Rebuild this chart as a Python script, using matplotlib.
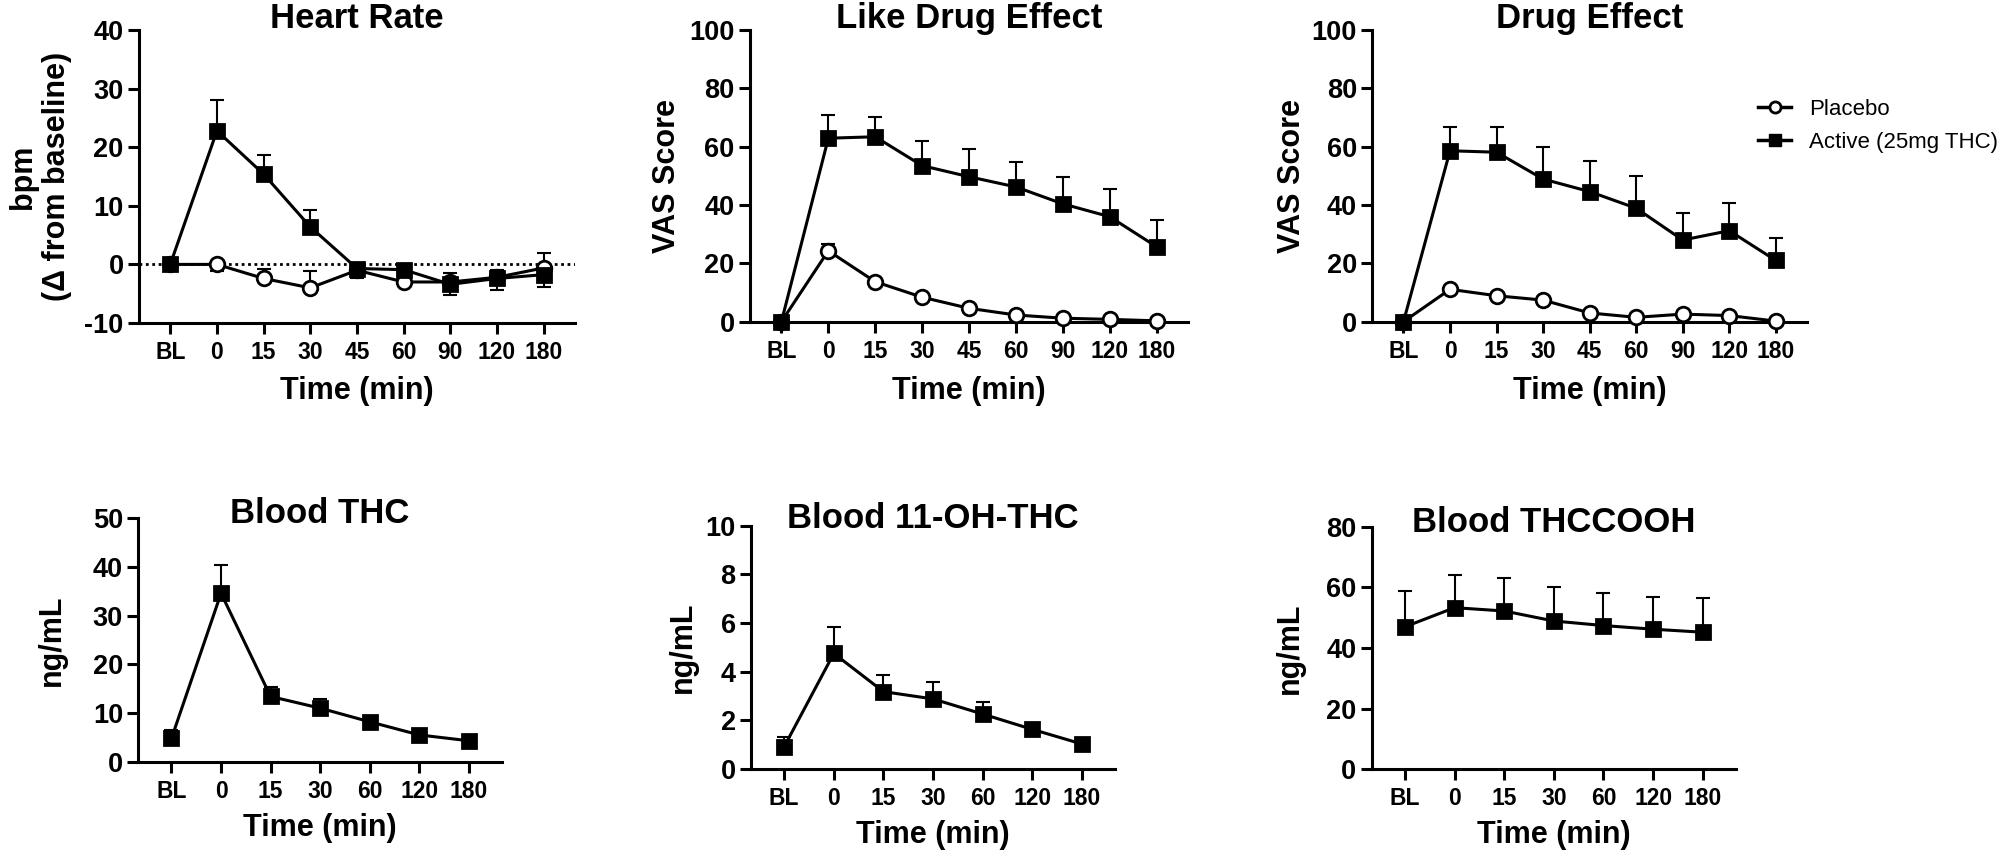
import matplotlib
matplotlib.use('Agg')
import matplotlib.pyplot as plt
from matplotlib.lines import Line2D

plt.rcParams['font.family'] = ['Liberation Sans', 'DejaVu Sans']
plt.rcParams['font.weight'] = 'bold'
plt.rcParams['axes.unicode_minus'] = False

# Time points for the subjective / heart-rate measures and for blood samples.
TIMES_VAS = ['BL', '0', '15', '30', '45', '60', '90', '120', '180']
TIMES_BLOOD = ['BL', '0', '15', '30', '60', '120', '180']

# Heart rate (bpm, change from baseline). Errors are one-sided as drawn.
hr_placebo = [0, 0.0, -2.4, -4.0, -1.0, -3.0, -3.0, -2.2, -0.6]
hr_placebo_lo = [0, 1.1, 0, 0, 1.4, 0, 0, 0, 0]
hr_placebo_hi = [0, 0, 1.6, 2.8, 0, 0.6, 0, 0, 2.5]
hr_active = [0, 22.8, 15.4, 6.4, -0.7, -0.9, -3.4, -2.4, -1.75]
hr_active_lo = [0, 0, 0, 0, 0, 0, 1.8, 2.0, 2.1]
hr_active_hi = [0, 5.2, 3.2, 2.8, 0, 0, 2.0, 1.5, 0]

# Like drug effect (VAS score)
like_placebo = [0, 24.3, 13.7, 8.4, 4.6, 2.3, 1.2, 0.8, 0.3]
like_placebo_hi = [0, 2.2, 0, 0, 0, 0, 0, 0, 0]
like_active = [0, 62.9, 63.4, 53.5, 49.7, 46.2, 40.4, 36.0, 25.7]
like_active_hi = [0, 8.0, 6.7, 8.6, 9.5, 8.6, 9.1, 9.4, 9.2]

# Drug effect (VAS score)
de_placebo = [0, 11.1, 8.9, 7.4, 3.0, 1.5, 2.6, 2.1, 0.2]
de_placebo_hi = [0, 0, 0, 0, 0, 0, 0, 0, 0]
de_active = [0, 58.6, 58.1, 48.9, 44.6, 38.9, 28.0, 31.2, 21.0]
de_active_hi = [0, 8.0, 8.5, 11.1, 10.6, 11.0, 9.2, 9.4, 7.7]

# Blood concentrations (ng/mL), active group only
thc = [4.8, 34.6, 13.4, 11.0, 8.2, 5.5, 4.3]
thc_hi = [1.7, 5.8, 1.9, 1.9, 0.8, 0.5, 0.4]
oh_thc = [0.92, 4.75, 3.18, 2.88, 2.26, 1.63, 1.03]
oh_thc_hi = [0.38, 1.07, 0.68, 0.68, 0.51, 0.15, 0.1]
thccooh = [47.0, 53.3, 52.2, 48.9, 47.4, 46.2, 45.2]
thccooh_hi = [11.9, 10.8, 11.0, 11.3, 10.6, 10.5, 11.4]

W, H = 2012, 861
fig = plt.figure(figsize=(W / 100, H / 100), dpi=100)


def box(l, r, t, b):
    return [l / W, 1 - b / H, (r - l) / W, (b - t) / H]


def style_axes(ax, labels, ylim, yticks, title, ylabel, ylab_px, title_off_px, xlab_top_px):
    n = len(labels)
    ax.set_xlim(-0.67, n - 1 + 0.67)
    ax.set_ylim(*ylim)
    ax.set_xticks(range(n))
    ax.set_xticklabels(labels)
    ax.set_yticks(yticks)
    for s in ['top', 'right']:
        ax.spines[s].set_visible(False)
    for s in ['left', 'bottom']:
        ax.spines[s].set_linewidth(2.2)
    ax.tick_params(direction='out', length=8, width=2.2)
    ax.tick_params(axis='x', pad=5, labelsize=16.5)
    ax.tick_params(axis='y', pad=3, labelsize=19.5)
    pos = ax.get_position()
    h_px = pos.height * H
    w_px = pos.width * W
    ax.set_title(title, fontsize=25, fontweight='bold', y=1 - title_off_px / h_px, pad=0)
    ax.set_ylabel(ylabel, fontsize=22, fontweight='bold', va='center')
    ax.yaxis.set_label_coords(ylab_px / w_px, 0.5)
    ax.set_xlabel('Time (min)', fontsize=22, fontweight='bold')
    ax.xaxis.set_label_coords(0.5, -xlab_top_px / h_px)


def draw(ax, y, lo, hi, marker, filled):
    x = range(len(y))
    ax.errorbar(x, y, yerr=[lo, hi], fmt='none', ecolor='black', elinewidth=1.5,
                capsize=5, capthick=1.5, zorder=2, clip_on=False)
    ax.plot(x, y, color='black', lw=2.2, marker=marker, markersize=10.5,
            markerfacecolor='black' if filled else 'white', markeredgecolor='black',
            markeredgewidth=2, zorder=3, clip_on=False)


zeros9 = [0] * 9
zeros7 = [0] * 7

# Heart rate
ax1 = fig.add_axes(box(139, 575, 30, 323))
ax1.axhline(0, color='black', lw=2, ls=(0, (1, 1.3)), zorder=1)
draw(ax1, hr_placebo, hr_placebo_lo, hr_placebo_hi, 'o', False)
draw(ax1, hr_active, hr_active_lo, hr_active_hi, 's', True)
style_axes(ax1, TIMES_VAS, (-10, 40), range(-10, 41, 10), 'Heart Rate',
           'bpm\n(\u0394 from baseline)', -99, -2, 53)

# Like drug effect
ax2 = fig.add_axes(box(750, 1188, 30, 321.7))
draw(ax2, like_placebo, zeros9, like_placebo_hi, 'o', False)
draw(ax2, like_active, zeros9, like_active_hi, 's', True)
style_axes(ax2, TIMES_VAS, (0, 100), range(0, 101, 20), 'Like Drug Effect',
           'VAS Score', -83, -2, 54)

# Drug effect
ax3 = fig.add_axes(box(1372.3, 1807, 30, 321.7))
draw(ax3, de_placebo, zeros9, de_placebo_hi, 'o', False)
draw(ax3, de_active, zeros9, de_active_hi, 's', True)
style_axes(ax3, TIMES_VAS, (0, 100), range(0, 101, 20), 'Drug Effect',
           'VAS Score', -80, -2, 54)

# Blood THC
ax4 = fig.add_axes(box(138.3, 502, 518.3, 761.7))
draw(ax4, thc, zeros7, thc_hi, 's', True)
style_axes(ax4, TIMES_BLOOD, (0, 50), range(0, 51, 10), 'Blood THC',
           'ng/mL', -86, 5, 51)

# Blood 11-OH-THC
ax5 = fig.add_axes(box(751, 1115, 525.7, 769))
draw(ax5, oh_thc, zeros7, oh_thc_hi, 's', True)
style_axes(ax5, TIMES_BLOOD, (0, 10), range(0, 11, 2), 'Blood 11-OH-THC',
           'ng/mL', -68, 2, 51)

# Blood THCCOOH
ax6 = fig.add_axes(box(1371.7, 1736, 526.7, 769.3))
draw(ax6, thccooh, zeros7, thccooh_hi, 's', True)
style_axes(ax6, TIMES_BLOOD, (0, 80), range(0, 81, 20), 'Blood THCCOOH',
           'ng/mL', -82, 5, 51)

handles = [
    Line2D([], [], color='black', lw=2.5, marker='o', markersize=8,
           markerfacecolor='white', markeredgecolor='black', markeredgewidth=2),
    Line2D([], [], color='black', lw=2.5, marker='s', markersize=8,
           markerfacecolor='black', markeredgecolor='black'),
]
fig.legend(handles, ['Placebo', 'Active (25mg THC)'], loc='upper left',
           bbox_to_anchor=(1758 / W, 1 - 99 / H), frameon=False,
           prop={'size': 16, 'weight': 'normal'}, handlelength=1.5,
           handletextpad=0.8, borderpad=0, borderaxespad=0, labelspacing=0.55)

fig.savefig('out.png', dpi=100)
